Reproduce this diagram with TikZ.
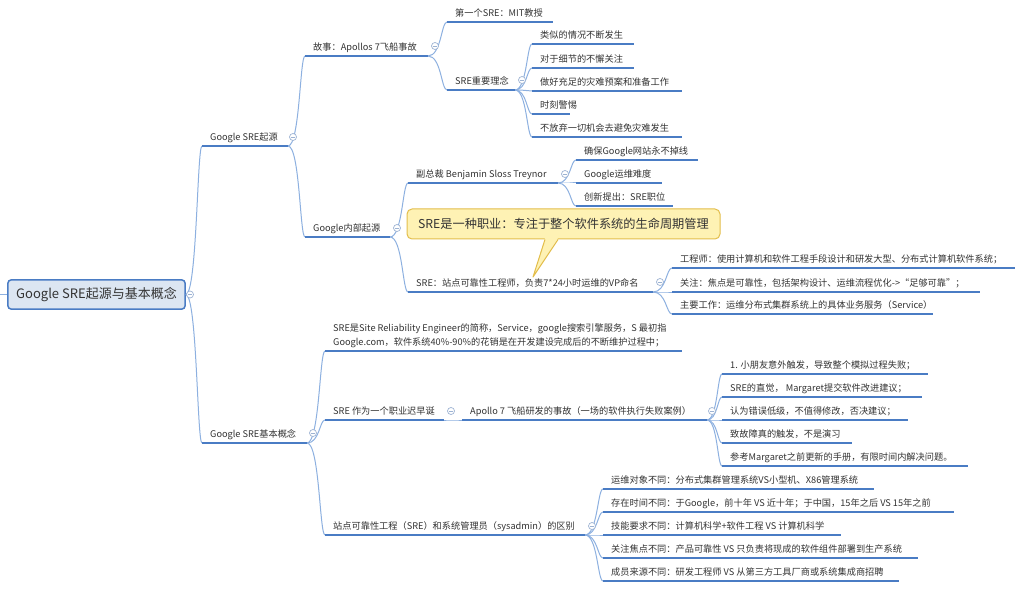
\documentclass[tikz,border=0pt]{standalone}
\usepackage{fontspec}
\setmainfont{Noto Sans CJK SC}
\usetikzlibrary{calc}
\definecolor{ul}{HTML}{4A7CC4}
\definecolor{cn}{HTML}{8DB0E0}
\definecolor{tx}{HTML}{333333}
\definecolor{rootfill}{HTML}{DCE6F2}
\definecolor{btncol}{HTML}{9DB3D3}
\definecolor{cfill}{HTML}{FEF2B4}
\definecolor{cborder}{HTML}{E3BE4C}
\tikzset{
  lbl/.style={anchor=base west, inner sep=0pt, text=tx, font=\fontsize{9.2bp}{14bp}\selectfont},
  uline/.style={draw=ul, line width=2bp},
  conn/.style={draw=cn, line width=1bp},
  btn/.style={circle, draw=btncol, fill=white, line width=0.7bp, minimum size=7bp, inner sep=0pt},
  btnm/.style={draw=btncol, line width=0.7bp},
  rootbox/.style={draw=ul, fill=rootfill, line width=1.5bp, rounded corners=3bp, minimum width=177bp, minimum height=29bp, inner sep=0pt, text=tx, font=\fontsize{13bp}{15bp}\selectfont},
  callbox/.style={draw=cborder, fill=cfill, line width=1bp, rounded corners=5bp, minimum width=313bp, minimum height=30bp, inner sep=0pt, text=tx, font=\fontsize{12.2bp}{14bp}\selectfont}
}
\newcommand\tp[5]{%
  \coordinate (#1s) at (#2,#4);
  \coordinate (#1e) at (#3,#4);
  \draw[uline] (#1s) -- (#1e);
  \node[lbl] (#1) at (#2+8,#4-5.5) {#5};
}
\newcommand\cnx[2]{\draw[conn] let \p1=(#1),\p2=(#2),\n1={\x1+0.7*(\x2-\x1)} in (\p1) .. controls (\n1,\y1) and (\n1,\y2) .. (\p2);}
\newcommand\btn[3]{\node[btn] (#1) at (#2,#3) {}; \draw[btnm] ($(#1.center)+(-2,0)$) -- ($(#1.center)+(2,0)$);}
\begin{document}
\begin{tikzpicture}[x=1bp,y=-1bp]
\useasboundingbox (0,0) rectangle (1024,598);
\fill[white] (0,0) rectangle (1024,598);
% coordinates for connectors (defined before drawing)
\coordinate (L1as) at (202,146); \coordinate (L1ae) at (288,146);
\coordinate (L1bs) at (202,443); \coordinate (L1be) at (307,443);
\coordinate (L2as) at (305,56); \coordinate (L2ae) at (428,56);
\coordinate (L2bs) at (305,237); \coordinate (L2be) at (390,237);
\coordinate (L3as) at (447,22);
\coordinate (L3bs) at (447,90); \coordinate (L3be) at (515,90);
\coordinate (L4as) at (532,44);
\coordinate (L4bs) at (532,68);
\coordinate (L4cs) at (532,91);
\coordinate (L4ds) at (532,114);
\coordinate (L4es) at (532,137);
\coordinate (L3cs) at (408,183); \coordinate (L3ce) at (558,183);
\coordinate (L3ds) at (408,292); \coordinate (L3de) at (653,292);
\coordinate (L4fs) at (576,160);
\coordinate (L4gs) at (576,183);
\coordinate (L4hs) at (576,206);
\coordinate (L4is) at (672,268);
\coordinate (L4js) at (672,292);
\coordinate (L4ks) at (672,314);
\coordinate (L2cs) at (325,351);
\coordinate (L2ds) at (325,420); \coordinate (L2de) at (444,420);
\coordinate (L2es) at (325,535); \coordinate (L2ee) at (585,535);
\coordinate (L3es) at (462,420); \coordinate (L3ee) at (707,420);
\coordinate (L4ls) at (722,374);
\coordinate (L4ms) at (722,397);
\coordinate (L4ns) at (722,420);
\coordinate (L4os) at (722,443);
\coordinate (L4ps) at (722,466);
\coordinate (M1s) at (603,489);
\coordinate (M2s) at (603,512);
\coordinate (M3s) at (603,535);
\coordinate (M4s) at (603,558);
\coordinate (M5s) at (603,581);
% root
\node[rootbox] (root) at (96.5,294.5) {Google SRE起源与基本概念};
\coordinate (stub) at (0,294.5);
\draw[conn] (stub) -- (root.west);
% connectors
\cnx{root.east}{L1as} \cnx{root.east}{L1bs}
\cnx{L1ae}{L2as} \cnx{L1ae}{L2bs}
\cnx{L2ae}{L3as} \cnx{L2ae}{L3bs}
\cnx{L3be}{L4as} \cnx{L3be}{L4bs} \cnx{L3be}{L4cs} \cnx{L3be}{L4ds} \cnx{L3be}{L4es}
\cnx{L2be}{L3cs} \cnx{L2be}{L3ds}
\cnx{L3ce}{L4fs} \cnx{L3ce}{L4gs} \cnx{L3ce}{L4hs}
\cnx{L3de}{L4is} \cnx{L3de}{L4js} \cnx{L3de}{L4ks}
\cnx{L1be}{L2cs} \cnx{L1be}{L2ds} \cnx{L1be}{L2es}
\cnx{L2de}{L3es}
\cnx{L3ee}{L4ls} \cnx{L3ee}{L4ms} \cnx{L3ee}{L4ns} \cnx{L3ee}{L4os} \cnx{L3ee}{L4ps}
\cnx{L2ee}{M1s} \cnx{L2ee}{M2s} \cnx{L2ee}{M3s} \cnx{L2ee}{M4s} \cnx{L2ee}{M5s}
% topics
\tp{L1a}{202}{288}{146}{Google SRE起源}
\tp{L1b}{202}{307}{443}{Google SRE基本概念}
\tp{L2a}{305}{428}{56}{故事：Apollos 7飞船事故}
\tp{L2b}{305}{390}{237}{Google内部起源}
\tp{L3a}{447}{553}{22}{第一个SRE：MIT教授}
\tp{L3b}{447}{515}{90}{SRE重要理念}
\tp{L4a}{532}{634}{44}{类似的情况不断发生}
\tp{L4b}{532}{634}{68}{对于细节的不懈关注}
\tp{L4c}{532}{682}{91}{做好充足的灾难预案和准备工作}
\tp{L4d}{532}{570}{114}{时刻警惕}
\tp{L4e}{532}{682}{137}{不放弃一切机会去避免灾难发生}
\tp{L3c}{408}{558}{183}{副总裁 Benjamin Sloss Treynor}
\tp{L3d}{408}{653}{292}{SRE：站点可靠性工程师，负责7*24小时运维的VP命名}
\tp{L4f}{576}{698}{160}{确保Google网站永不掉线}
\tp{L4g}{576}{662}{183}{Google运维难度}
\tp{L4h}{576}{673}{206}{创新提出：SRE职位}
\tp{L4i}{672}{1015}{268}{工程师：使用计算机和软件工程手段设计和研发大型、分布式计算机软件系统；}
\tp{L4j}{672}{980}{292}{关注：焦点是可靠性，包括架构设计、运维流程优化->“足够可靠”；}
\tp{L4k}{672}{933}{314}{主要工作：运维分布式集群系统上的具体业务服务（Service）}
\tp{L2c}{325}{682}{351}{\begin{tabular}[b]{@{}l@{}}SRE是Site Reliability Engineer的简称，Service，google搜索引擎服务，S 最初指\\Google.com，软件系统40\%-90\%的花销是在开发建设完成后的不断维护过程中；\end{tabular}}
\tp{L2d}{325}{444}{420}{SRE 作为一个职业迟早诞}
\tp{L2e}{325}{585}{535}{站点可靠性工程（SRE）和系统管理员（sysadmin）的区别}
\tp{L3e}{462}{707}{420}{Apollo 7 飞船研发的事故（一场的软件执行失败案例）}
\tp{L4l}{722}{928}{374}{1. 小朋友意外触发，导致整个模拟过程失败；}
\tp{L4m}{722}{922}{397}{SRE的直觉， Margaret提交软件改进建议；}
\tp{L4n}{722}{908}{420}{认为错误低级，不值得修改，否决建议；}
\tp{L4o}{722}{852}{443}{致故障真的触发，不是演习}
\tp{L4p}{722}{968}{466}{参考Margaret之前更新的手册，有限时间内解决问题。}
\tp{M1}{603}{874}{489}{运维对象不同：分布式集群管理系统VS小型机、X86管理系统}
\tp{M2}{603}{954}{512}{存在时间不同：于Google，前十年 VS 近十年；于中国，15年之后 VS 15年之前}
\tp{M3}{603}{841}{535}{技能要求不同：计算机科学+软件工程 VS 计算机科学}
\tp{M4}{603}{918}{558}{关注焦点不同：产品可靠性 VS 只负责将现成的软件组件部署到生产系统}
\tp{M5}{603}{899}{581}{成员来源不同：研发工程师 VS 从第三方工具厂商或系统集成商招聘}
% collapse buttons
\btn{b0}{190}{294.5}
\btn{b1}{293}{137}
\btn{b2}{313}{433}
\btn{b3}{435}{46}
\btn{b4}{522}{80}
\btn{b5}{397}{228}
\btn{b6}{565}{174}
\btn{b7}{660}{282}
\btn{b8}{451}{411}
\btn{b9}{712}{411}
\btn{b10}{592}{526}
% callout
\node[callbox] (call) at (563.5,224) {SRE是一种职业：专注于整个软件系统的生命周期管理};
\coordinate (tip) at (533,277);
\fill[cfill] ([xshift=-18.5bp,yshift=1.5bp]call.south) -- (tip) -- ([xshift=-5.5bp,yshift=1.5bp]call.south) -- cycle;
\draw[cborder, line width=1bp, line join=round] ([xshift=-18.5bp]call.south) -- (tip) -- ([xshift=-5.5bp]call.south);
\end{tikzpicture}
\end{document}
